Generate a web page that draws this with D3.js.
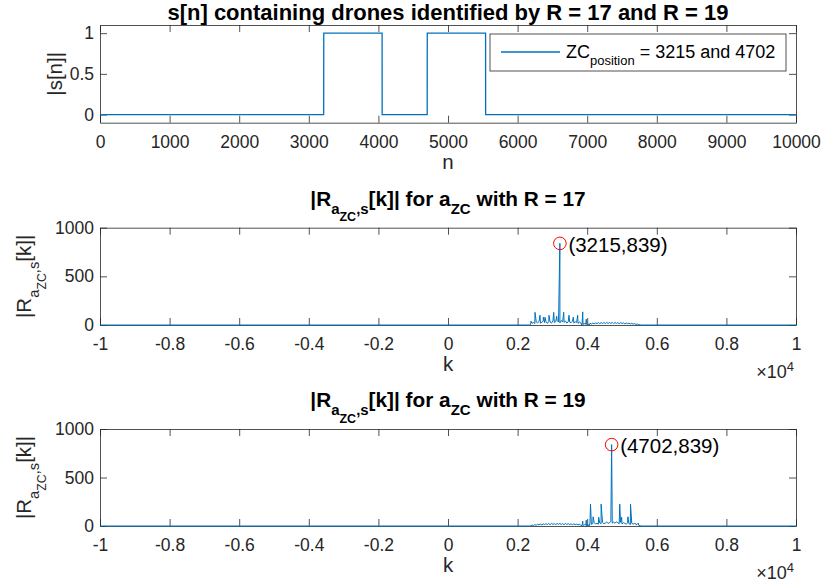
<!DOCTYPE html>
<html><head><meta charset="utf-8">
<script src="https://cdn.jsdelivr.net/npm/d3@7"></script>
<style>
body{margin:0;background:#fff}
text{font-family:"Liberation Sans",Arial,Helvetica,sans-serif;white-space:pre}
</style>
</head><body>
<svg id="c" width="821" height="587"></svg>
<script>
// ---------------- DATA ----------------
// Panel 1: |s[n]| (two ZC bursts of length 839)
const sigN = [0, 3214, 3215, 4053, 4054, 4701, 4702, 5540, 5541, 10000];
const sigV = [0, 0, 1, 1, 0, 0, 1, 1, 0, 0];
const xTicks1 = [0,1000,2000,3000,4000,5000,6000,7000,8000,9000,10000];
const yTicks1 = [0, 0.5, 1];
const xTicks2 = [-10000,-8000,-6000,-4000,-2000,0,2000,4000,6000,8000,10000];
const xTickLabels2 = ["-1","-0.8","-0.6","-0.4","-0.2","0","0.2","0.4","0.6","0.8","1"];
const yTicks2 = [0, 500, 1000];

// Panel 2: R = 17 correlation
const peak17 = [3215, 839];
const cluster17Start = 2376, cluster17Step = 40;
const cluster17 = [6,18,26,15,31,22,36,19,28,40, 24,33,17,38,29,21,42,26,34,47,
                   30,22,45,35,27,41,19,36,30,24, 39,21,33,27,16,30,22,25,14,19, 9,5];
const bump17Start = 3880, bump17Step = 40;
const bump17 = [3,12,6,15,9,18,10,20,12,22, 14,24,13,25,15,26,14,27,16,26,
                15,27,14,26,16,25,13,24,15,23, 12,21,13,19,10,17,9,14,6,10, 4,2];
const spikes17K = [2385,2500,2644,2739,2787,2902,3037,3123,3325,3477,3601,3727,3871,3974];
const spikes17V = [40,130,100,80,80,100,130,90,130,100,80,100,135,60];

// Panel 3: R = 19 correlation
const peak19 = [4702, 839];
const cluster19Start = 3880, cluster19Step = 40;
const cluster19 = [4,14,8,22,12,30,16,25,35,20, 28,18,32,24,38,22,30,42,26,36,
                   45,30,40,28,44,33,25,38,21,34, 27,19,31,24,16,28,20,26,14,18, 8,3];
const bump19Start = 2376, bump19Step = 40;
const bump19 = [2,10,5,14,8,17,11,20,12,22, 14,24,15,26,13,27,16,25,14,26,
                17,27,15,25,13,26,16,24,14,23, 12,22,13,20,11,18,9,15,7,11, 4,2];
const spikes19K = [3871,3974,4095,4170,4330,4400,4935,4990,5170,5245,5374,5469];
const spikes19V = [50,60,225,95,90,225,225,90,95,225,30,30];

// ---------------- LAYOUT ----------------
const svg = d3.select("#c");
const L = 100, R = 796;
const FT = 17.5, FL = 20.5, FTT = 20.8;
const AX = "#262626", BLUE = "#0072BD";
const panels = [{top:25,bottom:122.7},{top:227.7,bottom:325},{top:429,bottom:526}];

function frame(p, x, y, xt, xfmt, yt, yfmt) {
  const cfg = (g) => {
    g.attr("font-size", null).attr("font-family", null);
    g.select(".domain").attr("stroke", AX).attr("stroke-width", 0.8);
    g.selectAll(".tick line").attr("stroke", AX).attr("stroke-width", 0.8);
    g.selectAll(".tick text").attr("fill", AX).attr("font-size", FT);
  };
  svg.append("g").attr("transform", `translate(0,${p.bottom})`)
    .call(d3.axisBottom(x).tickValues(xt).tickFormat(xfmt).tickSizeInner(-7).tickSizeOuter(0).tickPadding(12.5)).call(cfg);
  svg.append("g").attr("transform", `translate(0,${p.top})`)
    .call(d3.axisTop(x).tickValues(xt).tickFormat("").tickSizeInner(-7).tickSizeOuter(0)).call(cfg);
  svg.append("g").attr("transform", `translate(${L},0)`)
    .call(d3.axisLeft(y).tickValues(yt).tickFormat(yfmt).tickSizeInner(-7).tickSizeOuter(0).tickPadding(6)).call(cfg);
  svg.append("g").attr("transform", `translate(${R},0)`)
    .call(d3.axisRight(y).tickValues(yt).tickFormat("").tickSizeInner(-7).tickSizeOuter(0)).call(cfg);
}

function rich(sel, segs, F) {
  const sizes = [F, F*0.72, F*0.6];
  const offs = [0, F*0.4, F*0.75];
  let cur = 0;
  segs.forEach(([t, l]) => {
    sel.append("tspan").text(t).attr("font-size", sizes[l]).attr("dy", (offs[l]-offs[cur]).toFixed(2));
    cur = l;
  });
}

// ---------- Panel 1 ----------
const p1 = panels[0];
const x1 = d3.scaleLinear().domain([0,10000]).range([L,R]);
const y1 = d3.scaleLinear().domain([-0.1,1.1]).range([p1.bottom,p1.top]);
frame(p1, x1, y1, xTicks1, d3.format("d"), yTicks1, d => String(d));
svg.append("path").datum(sigN.map((n,i)=>[n,sigV[i]]))
  .attr("fill","none").attr("stroke",BLUE).attr("stroke-width",1.3)
  .attr("d", d3.line().x(d=>x1(d[0])).y(d=>y1(d[1])));
svg.append("text").attr("x",(L+R)/2).attr("y",19.5).attr("text-anchor","middle")
  .attr("font-size",22).attr("font-weight","bold").attr("fill","#000")
  .text("s[n] containing drones identified by R = 17 and R = 19");
svg.append("text").attr("x",(L+R)/2).attr("y",p1.bottom+46).attr("text-anchor","middle")
  .attr("font-size",FL).attr("fill",AX).text("n");
svg.append("text").attr("transform",`translate(62,${(p1.top+p1.bottom)/2}) rotate(-90)`)
  .attr("text-anchor","middle").attr("font-size",FL).attr("fill",AX).text("|s[n]|");
// legend
const lg = svg.append("g");
lg.append("rect").attr("x",490).attr("y",34).attr("width",296).attr("height",37)
  .attr("fill","#fff").attr("stroke",AX).attr("stroke-width",0.8);
lg.append("line").attr("x1",501).attr("x2",560).attr("y1",52).attr("y2",52)
  .attr("stroke",BLUE).attr("stroke-width",1.3);
const lt = lg.append("text").attr("x",566).attr("y",58).attr("fill","#000");
rich(lt, [["ZC",0],["position",1],[" = 3215 and 4702",0]], 18);

// ---------- Panels 2 & 3 ----------
function buildPts(cStart, cStep, cVals, bStart, bStep, bVals, sK, sV, peak) {
  const pts = [[-10000,0],[cStart-40,0],[bStart-40,0]];
  cVals.forEach((v,i)=>pts.push([cStart+i*cStep, v]));
  bVals.forEach((v,i)=>pts.push([bStart+i*bStep, v]));
  sK.forEach((k,i)=>pts.push([k, sV[i]]));
  pts.push(peak);
  pts.push([cStart+cVals.length*cStep, 0],[bStart+bVals.length*bStep, 0],[10000,0]);
  pts.sort((a,b)=>a[0]-b[0]);
  return pts;
}

function corrPanel(p, pts, peak, R_) {
  const x = d3.scaleLinear().domain([-10000,10000]).range([L,R]);
  const y = d3.scaleLinear().domain([0,1000]).range([p.bottom,p.top]);
  frame(p, x, y, xTicks2, (d,i)=>xTickLabels2[i], yTicks2, d=>String(d));
  svg.append("path").datum(pts).attr("fill","none").attr("stroke",BLUE)
    .attr("stroke-width",1).attr("stroke-linejoin","miter")
    .attr("d", d3.line().x(d=>x(d[0])).y(d=>y(d[1])));
  svg.append("circle").attr("cx",x(peak[0])).attr("cy",y(peak[1])).attr("r",6.3)
    .attr("fill","none").attr("stroke","#ff0000").attr("stroke-width",1);
  svg.append("text").attr("x",x(peak[0])+8.5).attr("y",y(peak[1])+8.5)
    .attr("font-size",20.5).attr("fill","#000").text(`(${peak[0]},${peak[1]})`);
  // title
  const t = svg.append("text").attr("x",(L+R)/2).attr("y",p.top-22).attr("text-anchor","middle")
    .attr("font-weight","bold").attr("fill","#000");
  rich(t, [["|R",0],["a",1],["ZC",2],[",s",1],["[k]| for a",0],["ZC",1],[` with R = ${R_}`,0]], FTT);
  // x label
  svg.append("text").attr("x",(L+R)/2).attr("y",p.bottom+46).attr("text-anchor","middle")
    .attr("font-size",FL).attr("fill",AX).text("k");
  // exponent
  const e = svg.append("text").attr("x",794).attr("y",p.bottom+53).attr("text-anchor","end")
    .attr("fill",AX).attr("font-size",18);
  e.append("tspan").text("\u00d710");
  e.append("tspan").text("4").attr("font-size",13).attr("dy",-7.5);
  // y label
  const yl = svg.append("text").attr("transform",`translate(31,${(p.top+p.bottom)/2}) rotate(-90)`)
    .attr("text-anchor","middle").attr("fill",AX);
  rich(yl, [["|R",0],["a",1],["ZC",2],[",s",1],["[k]|",0]], FL);
}

corrPanel(panels[1], buildPts(cluster17Start, cluster17Step, cluster17, bump17Start, bump17Step, bump17,
  spikes17K, spikes17V, peak17), peak17, 17);
corrPanel(panels[2], buildPts(cluster19Start, cluster19Step, cluster19, bump19Start, bump19Step, bump19,
  spikes19K, spikes19V, peak19), peak19, 19);
</script>
</body></html>
